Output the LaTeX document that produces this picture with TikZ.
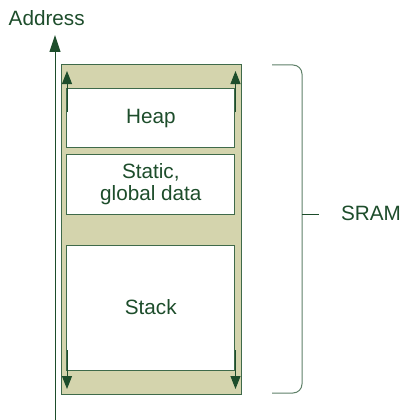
\documentclass[tikz,border=0pt]{standalone}
\usepackage{fontspec}
\setmainfont{Liberation Sans}
\usetikzlibrary{arrows.meta}
\definecolor{txtgreen}{HTML}{1D4D2B}
\definecolor{boxline}{HTML}{3F6A4A}
\definecolor{khaki}{HTML}{D4D4AD}
\definecolor{bracecol}{HTML}{5E8068}
\tikzset{
  lbl/.style={text=txtgreen, font=\fontsize{20.7}{23.5}\selectfont, inner sep=0pt},
  segbox/.style={draw=boxline, fill=white, line width=1pt, inner sep=0pt, align=center, text=txtgreen, font=\fontsize{20.7}{23.5}\selectfont},
  growarrow/.style={draw=txtgreen, line width=1pt, -{Triangle[width=10pt,length=13pt]}},
  axisarrow/.style={draw=txtgreen, line width=1pt, -{Triangle[width=11pt,length=17pt]}}
}
\begin{document}
\begin{tikzpicture}[x=1pt,y=-1pt]
\useasboundingbox (0,0) rectangle (403,420);
% outer memory block
\node[draw=boxline, fill=khaki, line width=1pt, minimum width=180pt, minimum height=330pt, inner sep=0pt] (mem) at (151.5,229.5) {};
% segments
\node[segbox, minimum width=168pt, minimum height=59.5pt] (heap) at (150.8,118.2) {Heap};
\node[segbox, minimum width=168pt, minimum height=60pt] (static) at (150.8,184) {Static,\\[-1pt]global data};
\node[segbox, minimum width=168pt, minimum height=125pt] (stack) at (150.8,307.5) {Stack};
% growth arrows
\coordinate (tlS) at (67,112); \coordinate (tlE) at (67,71);
\coordinate (trS) at (235.5,112); \coordinate (trE) at (235.5,71);
\coordinate (blS) at (67,350); \coordinate (blE) at (67,389);
\coordinate (brS) at (235.5,350); \coordinate (brE) at (235.5,389);
\draw[growarrow] (tlS) -- (tlE);
\draw[growarrow] (trS) -- (trE);
\draw[growarrow] (blS) -- (blE);
\draw[growarrow] (brS) -- (brE);
% address axis
\coordinate (axB) at (55,420);
\coordinate (axT) at (55,35);
\draw[axisarrow] (axB) -- (axT);
\node[lbl, anchor=base] (addr) at (46.7,25.7) {Address};
% brace
\coordinate (brT) at (272,65);
\coordinate (brM) at (302,214);
\coordinate (brB) at (272,393);
\coordinate (brTick) at (319,214);
\draw[bracecol, line width=1pt, rounded corners=9pt] (brT) -| (brM) |- (brB);
\draw[txtgreen, line width=1pt] (brM) -- (brTick);
\node[lbl, anchor=base] (sram) at (371,220.7) {SRAM};
\end{tikzpicture}
\end{document}
